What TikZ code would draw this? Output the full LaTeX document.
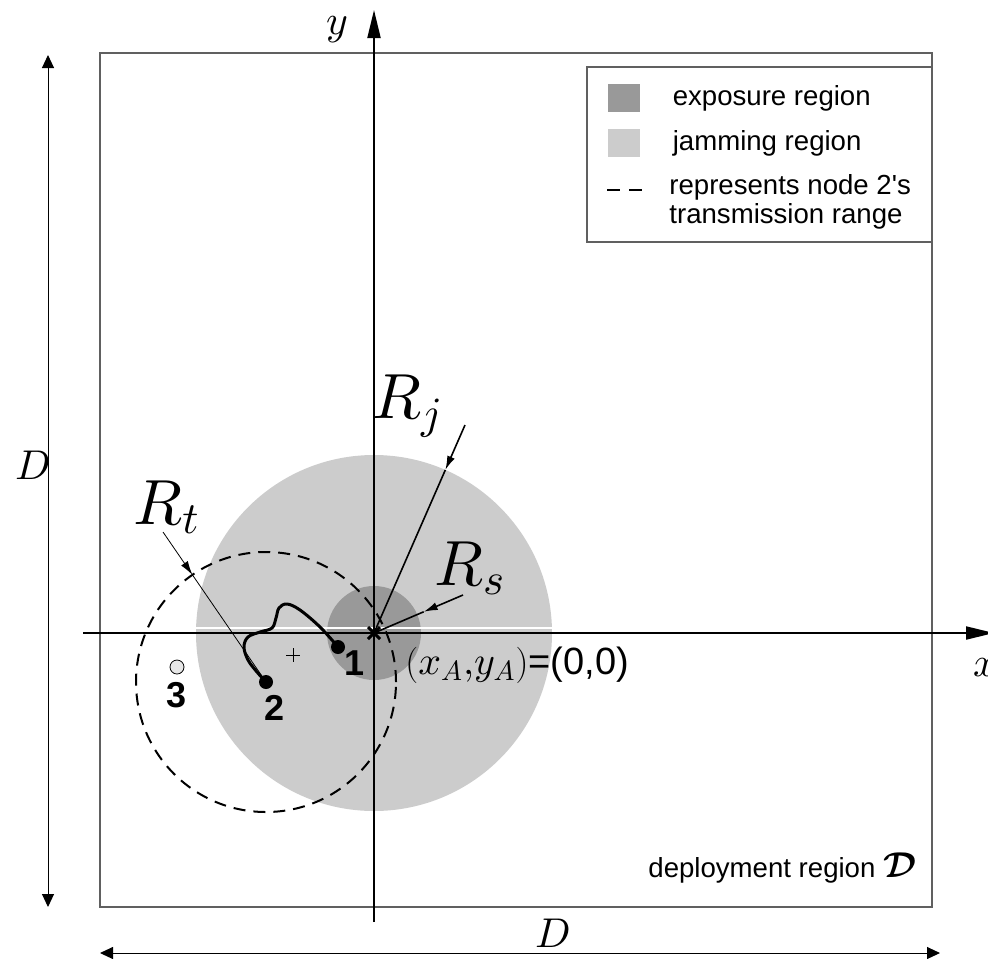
\documentclass[tikz,border=0pt]{standalone}
\usepackage{amsmath}
\usepackage{fontspec}
\setsansfont{Liberation Sans}
\usetikzlibrary{arrows.meta, positioning, calc}
\DeclareFontShape{OML}{cmm}{m}{it}{<-> cmmi10}{}
\DeclareFontShape{OML}{cmm}{b}{it}{<-> cmmib10}{}
\DeclareFontShape{OMS}{cmsy}{m}{n}{<-> cmsy10}{}
\DeclareFontShape{OMS}{cmsy}{b}{n}{<-> cmbsy10}{}
\newcommand{\mscale}[1]{\scalebox{1.3}{#1}}
\definecolor{cExpo}{HTML}{999999}
\definecolor{cJam}{HTML}{CCCCCC}
\definecolor{cBox}{HTML}{606060}
\definecolor{cHole}{HTML}{E6E6E6}

\begin{document}
\begin{tikzpicture}[
  x=0.5pt, y=-0.5pt,
  txt/.style={font=\sffamily\fontsize{13.8}{14.5}\selectfont, inner sep=0pt, align=left},
  num/.style={font=\sffamily\bfseries\fontsize{18}{20}\selectfont, inner sep=0pt},
  mlbl/.style={font=\fontsize{16}{18}\selectfont, inner sep=0pt},
  rlbl/.style={font=\fontsize{22}{26}\selectfont, inner sep=0pt},
  keysq/.style={minimum width=16pt, minimum height=14pt, inner sep=0pt},
  axis/.style={line width=1pt, -{Triangle[length=14pt, width=6.5pt]}},
  dimline/.style={line width=0.5pt, {Triangle[length=6.5pt, width=6pt]}-{Triangle[length=6.5pt, width=6pt]}},
  rad/.style={line width=0.8pt, -{Latex[length=7pt, width=4pt]}},
  dot/.style={circle, fill=black, inner sep=0pt, minimum size=7pt},
  txrange/.style={line width=1pt, dash pattern=on 6pt off 4pt},
]
\useasboundingbox (0,0) rectangle (988,958);

% key points
\coordinate (O) at (374,633);
\coordinate (ctr) at (293,655);

% regions
\fill[cJam] (O) circle[radius=89pt];
\fill[cExpo] (O) circle[radius=23.5pt];
\draw[white, line width=0.6pt] (195,628) -- (553,628);

% deployment region and dimensions
\draw[cBox, line width=0.7pt] (100,53) rectangle (932,907);
\draw[dimline] (48,55) -- (48,907);
\node[mlbl] (dv) at (33,465) {\mscale{$D$}};
\draw[dimline] (100,953) -- (940,953);
\node[mlbl] (dh) at (553,933) {\mscale{$D$}};

% axes
\draw[axis] (83,633) -- (994,633);
\draw[axis] (374,922) -- (374,10);
\node[mlbl] (ylab) at (337,30) {\mscale{$y$}};
\node[mlbl] (xlab) at (985,668) {\mscale{$x$}};

% nodes
\node[dot] (n1) at (338,647) {};
\node[dot] (n2) at (266,682) {};
\node[circle, draw, fill=cHole, line width=0.4pt, inner sep=0pt, minimum size=7pt] (n3) at (177,667) {};
\draw[txrange] (n2) circle[radius=65pt];

% origin
\draw[line width=1.5pt] ($(O)+(-6,-6)$) -- ($(O)+(6,6)$) ($(O)+(-6,6)$) -- ($(O)+(6,-6)$);
\node[txt, font=\sffamily\fontsize{19}{21}\selectfont, anchor=west] (olab) at (405,665)
  {\scalebox{1.05}{$(x_A{,}y_A)$}=(0,0)};

% centre mark
\draw[line width=0.4pt] ($(ctr)+(-7,0)$) -- ($(ctr)+(7,0)$) ($(ctr)+(0,-7)$) -- ($(ctr)+(0,7)$);

% node 1 to node 2 trajectory
\draw[line width=1.5pt, line cap=round] plot[smooth, tension=0.6] coordinates {
  (338,647) (320,627) (300,610) (287,604) (279,608) (276,618) (272,628)
  (260,632) (248,637) (244,647) (248,660) (257,672) (266,682)};
\node[num] (l1) at (355,663) {1};
\node[num] (l2) at (275,708) {2};
\node[num] (l3) at (177,695) {3};

% radii
\node[rlbl] (rj) at (408,406) {\scalebox{1.45}{$R_j$}};
\coordinate (rjs) at (465,425);
\coordinate (rjh) at ($(O)!89pt!(rjs)$);
\draw[rad] (rjs) -- (rjh);
\draw[line width=0.8pt] (rjh) -- (O);

\node[rlbl] (rs) at (470,568) {\scalebox{1.45}{$R_s$}};
\coordinate (rss) at (463,595);
\coordinate (rsh) at ($(O)!27pt!(rss)$);
\draw[rad] (rss) -- (rsh);
\draw[line width=0.8pt] (rsh) -- (O);

\node[rlbl] (rt) at (167,507) {\scalebox{1.45}{$R_t$}};
\coordinate (rts) at (163,532);
\coordinate (rth) at ($(n2)!65pt!(rts)$);
\draw[line width=0.4pt, -{Latex[length=7pt, width=4pt]}] (rts) -- (rth);
\draw[line width=0.4pt] (rth) -- (n2);

% legend
\draw[cBox, line width=0.6pt] (587,67) rectangle (932,242);
\node[keysq, fill=cExpo] (kexp) at (624,98) {};
\node[txt, anchor=west, right=16pt of kexp] (texp) {exposure region};
\node[keysq, fill=cJam] (kjam) at (624,143) {};
\node[txt, anchor=west, right=16pt of kjam] (tjam) {jamming region};
\coordinate (kd1) at (607,190);
\coordinate (kd2) at (642,190);
\draw[line width=1pt, dash pattern=on 6.5pt off 4.5pt] (kd1) -- (kd2);
\node[txt, anchor=west] (trng) at (669,202) {represents node 2\textquotesingle s\\transmission range};

\node[txt, anchor=west] (tdep) at (648,868) {deployment region \mscale{$\boldsymbol{\mathcal{D}}$}};

\end{tikzpicture}
\end{document}
